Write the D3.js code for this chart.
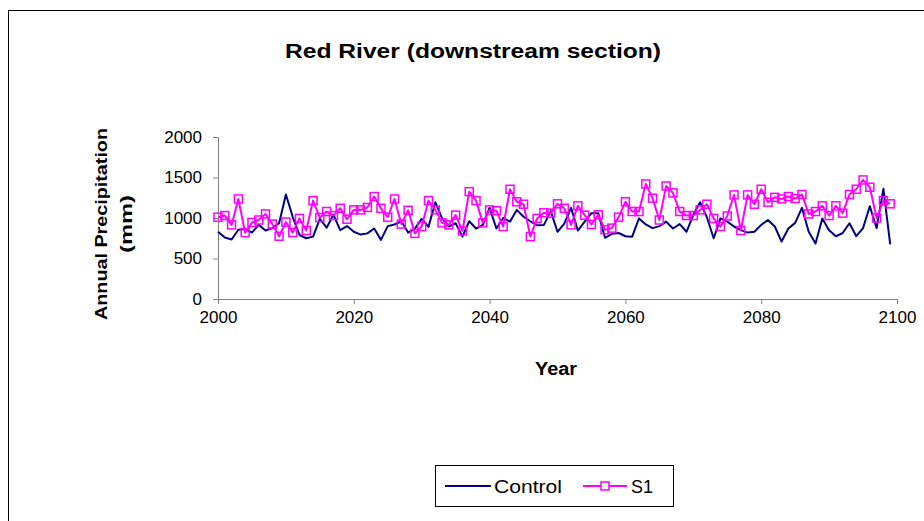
<!DOCTYPE html>
<html>
<head>
<meta charset="utf-8">
<script src="https://cdn.jsdelivr.net/npm/d3@7"></script>
<style>
  body { margin: 0; background: #fff; }
  svg { display: block; font-family: "Liberation Sans", Arial, sans-serif; }
</style>
</head>
<body>
<svg id="chart" width="924" height="521"></svg>
<script>
// annual precipitation
var years = d3.range(2000, 2100);

var control = [
  830, 760, 735, 855, 865, 820, 915, 845, 875, 935,
  1290, 1015, 790, 750, 770, 990, 880, 1040, 850, 900,
  830, 795, 810, 870, 730, 900, 920, 960, 820, 870,
  990, 890, 1195, 995, 895, 935, 770, 960, 870, 915,
  1125, 870, 1000, 955, 1100, 1015, 960, 910, 915, 1085,
  830, 930, 1125, 845, 955, 1060, 1060, 755, 805, 815,
  775, 770, 995, 920, 875, 900, 955, 870, 925, 830,
  1040, 1195, 1010, 750, 995, 955, 895, 850, 820, 830,
  915, 975, 895, 710, 870, 940, 1125, 830, 685, 995,
  850, 775, 815, 935, 775, 875, 1145, 875, 1360, 675
];

var s1 = [
  1010, 1030, 915, 1235, 820, 945, 975, 1050, 925, 775,
  950, 820, 995, 845, 1215, 1005, 1080, 1030, 1120, 985,
  1100, 1100, 1130, 1265, 1120, 1010, 1235, 925, 1095, 810,
  895, 1215, 1100, 940, 915, 1035, 840, 1325, 1215, 940,
  1100, 1090, 895, 1355, 1200, 1170, 770, 995, 1065, 1060,
  1175, 1120, 915, 1150, 1035, 920, 1040, 855, 875, 1010,
  1200, 1080, 1080, 1420, 1245, 975, 1395, 1310, 1080, 1030,
  1030, 1100, 1170, 995, 895, 1025, 1285, 845, 1285, 1170,
  1355, 1195, 1255, 1235, 1265, 1240, 1290, 1050, 1080, 1150,
  1030, 1150, 1060, 1290, 1355, 1470, 1380, 1000, 1215, 1175
];

var yTicks = [0, 500, 1000, 1500, 2000];
var xTicks = [2000, 2020, 2040, 2060, 2080, 2100];

var svg = d3.select("#chart");

// outer chart frame (cut off at right and bottom)
svg.append("rect")
    .attr("x", 8.5).attr("y", 10.5)
    .attr("width", 940).attr("height", 540)
    .attr("fill", "none")
    .attr("stroke", "#000")
    .attr("stroke-width", 1);

var margin = {top: 137, left: 218};
var width = 679, height = 162;
var g = svg.append("g").attr("transform", "translate(" + margin.left + "," + margin.top + ")");

var x = d3.scaleLinear().domain([2000, 2100]).range([0, width]);
var y = d3.scaleLinear().domain([0, 2000]).range([height, 0]);

// title
svg.append("text")
    .attr("x", 473).attr("y", 58)
    .attr("text-anchor", "middle")
    .attr("textLength", 376).attr("lengthAdjust", "spacingAndGlyphs")
    .style("font-size", "20px").style("font-weight", "bold")
    .text("Red River (downstream section)");

// y axis
var yAxis = g.append("g")
    .call(d3.axisLeft(y).tickValues(yTicks).tickSize(5).tickPadding(11).tickFormat(d3.format("d")));
yAxis.select(".domain").attr("stroke", "#808080");
yAxis.selectAll(".tick line").attr("stroke", "#808080");
yAxis.selectAll("text").style("font-size", "17px").attr("fill", "#000");

// x axis
var xAxis = g.append("g")
    .attr("transform", "translate(0," + height + ")")
    .call(d3.axisBottom(x).tickValues(xTicks).tickSize(5).tickPadding(7).tickFormat(d3.format("d")));
xAxis.select(".domain").attr("stroke", "#808080");
xAxis.selectAll(".tick line").attr("stroke", "#808080");
xAxis.selectAll("text").style("font-size", "17px").attr("fill", "#000");

// axis titles
svg.append("text")
    .attr("x", 556).attr("y", 375)
    .attr("text-anchor", "middle")
    .attr("textLength", 42).attr("lengthAdjust", "spacingAndGlyphs")
    .style("font-size", "18px").style("font-weight", "bold")
    .text("Year");

var yl = svg.append("g")
    .attr("transform", "translate(107,224) rotate(-90)")
    .style("font-size", "17px").style("font-weight", "bold");
yl.append("text")
    .attr("x", 0).attr("y", 0)
    .attr("text-anchor", "middle")
    .attr("textLength", 192).attr("lengthAdjust", "spacingAndGlyphs")
    .text("Annual Precipitation");
yl.append("text")
    .attr("x", 0).attr("y", 25)
    .attr("text-anchor", "middle")
    .attr("textLength", 58).attr("lengthAdjust", "spacingAndGlyphs")
    .text("(mm)");

// lines
var line = d3.line()
    .x(function(d, i) { return x(years[i]); })
    .y(function(d) { return y(d); });

g.append("path")
    .datum(control)
    .attr("fill", "none")
    .attr("stroke", "#000080")
    .attr("stroke-width", 2)
    .attr("stroke-linejoin", "round")
    .attr("d", line);

g.append("path")
    .datum(s1)
    .attr("fill", "none")
    .attr("stroke", "#ff00ff")
    .attr("stroke-width", 2)
    .attr("stroke-linejoin", "round")
    .attr("d", line);

g.selectAll(".s1dot")
    .data(s1)
  .enter().append("rect")
    .attr("class", "s1dot")
    .attr("x", function(d, i) { return x(years[i]) - 4; })
    .attr("y", function(d) { return y(d) - 4; })
    .attr("width", 8).attr("height", 8)
    .attr("fill", "none")
    .attr("stroke", "#ff00ff")
    .attr("stroke-width", 1.5);

// legend
var lg = svg.append("g").attr("transform", "translate(435,465)");
lg.append("rect")
    .attr("x", 0.5).attr("y", 0.5)
    .attr("width", 238).attr("height", 41)
    .attr("fill", "#fff").attr("stroke", "#000");
lg.append("line")
    .attr("x1", 10).attr("x2", 56).attr("y1", 21).attr("y2", 21)
    .attr("stroke", "#000080").attr("stroke-width", 2);
lg.append("text")
    .attr("x", 59).attr("y", 28)
    .attr("textLength", 68).attr("lengthAdjust", "spacingAndGlyphs")
    .style("font-size", "18px")
    .text("Control");
lg.append("line")
    .attr("x1", 148).attr("x2", 192).attr("y1", 21).attr("y2", 21)
    .attr("stroke", "#ff00ff").attr("stroke-width", 2);
lg.append("rect")
    .attr("x", 166).attr("y", 17).attr("width", 8).attr("height", 8)
    .attr("fill", "#fff").attr("stroke", "#ff00ff").attr("stroke-width", 1.5);
lg.append("text")
    .attr("x", 196).attr("y", 28)
    .attr("textLength", 22).attr("lengthAdjust", "spacingAndGlyphs")
    .style("font-size", "18px")
    .text("S1");
</script>
</body>
</html>
